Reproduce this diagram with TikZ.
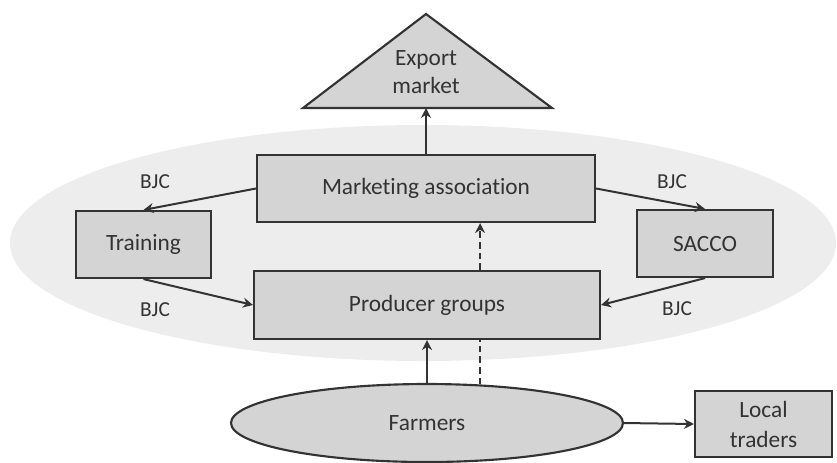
\documentclass[tikz,border=0pt]{standalone}
\usepackage{fontspec}
\setmainfont{Carlito}[Ligatures=NoCommon]
\usetikzlibrary{arrows.meta,shapes.geometric}
\definecolor{boxgray}{HTML}{D4D4D4}
\definecolor{halo}{HTML}{EDEDED}
\definecolor{ink}{HTML}{333333}

\begin{document}
\begin{tikzpicture}[x=0.75pt,y=-0.75pt,
  font=\fontsize{17.5}{21}\selectfont,
  box/.style={draw=ink,fill=boxgray,line width=1.6pt,inner sep=0pt,align=center,text=ink},
  link/.style={ink,line width=1.5pt,-{Stealth[length=7.5pt,width=7.5pt,inset=2.5pt]}},
  tag/.style={text=ink,font=\fontsize{16}{19}\selectfont}]
  \useasboundingbox (0,0) rectangle (837,462);

  % shaded cluster behind the middle layer
  \fill[halo] (423,243) ellipse [x radius=309.75pt, y radius=88.5pt];

  % export market triangle
  \draw[ink,fill=boxgray,line width=1.6pt,line join=miter] (303,108) -- (426,14) -- (552,108) -- cycle;
  \node[text=ink,align=center] (exp) at (426,72) {Export\\market};
  \coordinate (expbase) at (426,108);

  \node[box,minimum width=253.5pt,minimum height=50.25pt] (mkt) at (426,188.5) {Marketing association};
  \node[box,minimum width=259.5pt,minimum height=51pt] (prod) at (427,305) {Producer groups};
  \node[box,minimum width=101.25pt,minimum height=50.25pt] (train) at (143.5,244.5) {Training};
  \node[box,minimum width=102pt,minimum height=50.25pt] (sacco) at (705,243.5) {SACCO};
  \node[box,ellipse,minimum width=294pt,minimum height=58.5pt] (farm) at (427,423) {Farmers};
  \node[box,minimum width=102.75pt,minimum height=49.5pt,font=\fontsize{17.5}{22.5}\selectfont] (ltrade) at (763.5,424) {Local\\traders};

  \node[tag] (bjc1) at (155,182) {BJC};
  \node[tag] (bjc2) at (155,310) {BJC};
  \node[tag] (bjc3) at (672,182) {BJC};
  \node[tag] (bjc4) at (677,309) {BJC};

  \path[link]
    (mkt.north) edge (expbase)
    (mkt.west) edge (train.north)
    (train.south) edge (prod.west)
    (mkt.east) edge (sacco.north)
    (sacco.south) edge (prod.east)
    (farm.north) edge (prod.south)
    (farm.east) edge (ltrade.west);
  \draw[ink,line width=1.5pt,dash pattern=on 5pt off 3pt] (farm.36) -- (prod.south -| farm.36);
  \draw[link,dash pattern=on 5pt off 3pt] (prod.north -| farm.36) -- (mkt.south -| farm.36);
\end{tikzpicture}
\end{document}
